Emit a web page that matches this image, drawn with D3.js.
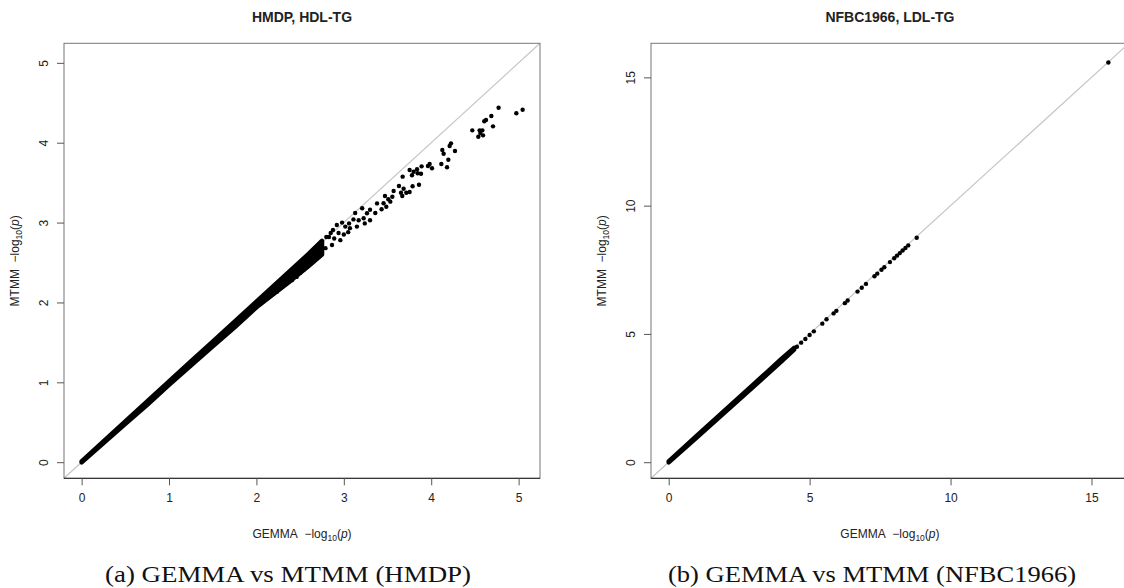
<!DOCTYPE html>
<html>
<head>
<meta charset="utf-8">
<script src="https://cdn.jsdelivr.net/npm/d3@7"></script>
<style>
  body { margin: 0; background: #fff; }
  text { font-family: "Liberation Sans", Arial, sans-serif; fill: #222; }
  .caption { font-family: "Liberation Serif", "DejaVu Serif", serif; fill: #111; }
</style>
</head>
<body>
<script>
// ---- data: left panel (HMDP, HDL-TG) ----
var titleL = "HMDP, HDL-TG";
var captionL = "(a) GEMMA vs MTMM (HMDP)";
var ticksL = [0, 1, 2, 3, 4, 5];
var limL = 5.043;
// dense part of the cloud, read as upper / lower edge of the band
var bandXL  = [0, 0.25, 0.5, 0.75, 1.0, 1.25, 1.5, 1.75, 2.0, 2.2, 2.4, 2.6, 2.75];
var bandHiL = [0.01, 0.26, 0.51, 0.76, 1.01, 1.26, 1.51, 1.76, 2.01, 2.21, 2.41, 2.61, 2.77];
var bandLoL = [0, 0.24, 0.48, 0.72, 0.97, 1.21, 1.45, 1.69, 1.94, 2.11, 2.28, 2.46, 2.6];
// separate points
var gemmaL = [5.046, 4.974, 4.771, 4.688, 4.627, 4.607, 4.707, 4.470, 4.554, 4.585, 4.562, 4.539, 4.593,
  4.226, 4.211, 4.272, 4.127, 4.142, 4.196, 4.116, 4.181, 4.009, 3.982, 3.963, 3.890, 3.838, 3.753,
  3.799, 3.780, 3.845, 3.883, 3.673, 3.631, 3.684, 3.787, 3.860, 3.570, 3.654, 3.715, 3.753, 3.669,
  3.471, 3.509, 3.532, 3.455, 3.432, 3.486, 3.555,
  3.38, 3.30, 3.36, 3.265, 3.21, 3.30, 3.227, 3.17, 3.11, 3.13, 3.06, 2.98, 3.017, 3.07, 2.92, 2.876,
  2.94, 2.89, 2.83, 2.865, 2.79, 2.75, 2.70, 2.655, 2.617, 2.58, 2.54, 2.50, 2.46, 2.41, 2.35, 2.29,
  2.235, 3.05, 3.15, 3.24, 2.96, 3.0, 2.8, 2.85];
var mtmmL = [4.413, 4.368, 4.438, 4.334, 4.284, 4.268, 4.205, 4.155, 4.155, 4.155, 4.121, 4.075, 4.092,
  3.992, 3.959, 3.896, 3.909, 3.862, 3.787, 3.733, 3.692, 3.680, 3.733, 3.708, 3.704, 3.667, 3.658,
  3.637, 3.592, 3.617, 3.612, 3.575, 3.458, 3.424, 3.454, 3.474, 3.396, 3.374, 3.374, 3.383, 3.333,
  3.333, 3.292, 3.262, 3.242, 3.167, 3.199, 3.324,
  3.24, 3.16, 3.12, 3.116, 3.18, 3.03, 3.054, 3.03, 3.04, 3.12, 2.99, 3.00, 2.95, 2.93, 2.97, 2.907,
  2.87, 2.80, 2.82, 2.72, 2.68, 2.62, 2.59, 2.53, 2.49, 2.45, 2.41, 2.37, 2.32, 2.28, 2.24, 2.20,
  2.135, 2.88, 2.95, 2.99, 2.78, 2.85, 2.82, 2.87];

// ---- data: right panel (NFBC1966, LDL-TG) ----
var titleR = "NFBC1966, LDL-TG";
var captionR = "(b) GEMMA vs MTMM (NFBC1966)";
var ticksR = [0, 5, 10, 15];
var limR = 15.7;
var bandXR  = [0, 1, 2, 3, 4, 4.45];
var bandHiR = [0.03, 1.03, 2.03, 3.02, 4.02, 4.45];
var bandLoR = [0, 0.97, 1.95, 2.94, 3.93, 4.39];
var gemmaR = [4.55, 4.7, 4.85, 5.0, 5.15, 5.45, 5.6, 5.85, 5.95, 6.25, 6.35, 6.7, 6.85, 7.0,
  7.3, 7.4, 7.55, 7.65, 7.85, 8.0, 8.1, 8.2, 8.3, 8.4, 8.5, 8.8, 15.6];
var mtmmR = [4.5, 4.66, 4.8, 4.96, 5.1, 5.4, 5.57, 5.8, 5.9, 6.2, 6.3, 6.65, 6.8, 6.95,
  7.25, 7.35, 7.5, 7.6, 7.8, 7.95, 8.05, 8.15, 8.25, 8.35, 8.45, 8.75, 15.58];

var W = 1124, H = 588;
var svg = d3.select("body").append("svg")
    .attr("width", W)
    .attr("height", H);

function drawPanel(p) {
  // R style: 4% padding on each side of the range
  var dom = [-0.04 * p.lim, 1.04 * p.lim];
  var x = d3.scaleLinear().domain(dom).range([p.left, p.right]);
  var y = d3.scaleLinear().domain(dom).range([p.bottom, p.top]);
  var g = svg.append("g");

  // y = x reference line
  g.append("line")
    .attr("x1", x(dom[0])).attr("y1", y(dom[0]))
    .attr("x2", x(dom[1])).attr("y2", y(dom[1]))
    .attr("stroke", "#c4c4c4")
    .attr("stroke-width", 1.2);

  // dense band of overlapping points
  var band = p.bandX.map(function(v, i) { return [v, p.bandLo[i], p.bandHi[i]]; });
  g.append("path")
    .datum(band)
    .attr("d", d3.area()
      .x(function(d) { return x(d[0]); })
      .y0(function(d) { return y(d[1]); })
      .y1(function(d) { return y(d[2]); }))
    .attr("fill", "#000")
    .attr("stroke", "#000")
    .attr("stroke-width", 4.6)
    .attr("stroke-linejoin", "round");

  g.selectAll("circle.pt")
    .data(p.gx)
    .enter()
    .append("circle")
      .attr("class", "pt")
      .attr("cx", function(d) { return x(d); })
      .attr("cy", function(d, i) { return y(p.gy[i]); })
      .attr("r", 2.2)
      .attr("fill", "#000");

  // box
  g.append("rect")
    .attr("x", p.left).attr("y", p.top)
    .attr("width", p.right - p.left)
    .attr("height", p.bottom - p.top)
    .attr("fill", "none")
    .attr("stroke", "#777")
    .attr("stroke-width", 1);
  g.append("line")
    .attr("x1", p.left).attr("x2", p.right)
    .attr("y1", p.bottom).attr("y2", p.bottom)
    .attr("stroke", "#222");

  // axes
  var fmt = d3.format("d");
  var xa = g.append("g")
    .attr("transform", "translate(0," + p.bottom + ")")
    .call(d3.axisBottom(x).tickValues(p.ticks).tickFormat(fmt)
      .tickSize(7).tickPadding(8).tickSizeOuter(0));
  xa.select(".domain").remove();
  xa.selectAll(".tick line").attr("stroke", "#555");
  xa.selectAll("text").style("font-size", "12px").attr("fill", "#222");

  var ya = g.append("g")
    .attr("transform", "translate(" + p.left + ",0)")
    .call(d3.axisLeft(y).tickValues(p.ticks).tickFormat(fmt)
      .tickSize(7).tickSizeOuter(0));
  ya.select(".domain").remove();
  ya.selectAll(".tick line").attr("stroke", "#555");
  ya.selectAll("text")
    .attr("x", 0).attr("dy", 0)
    .attr("text-anchor", "middle")
    .attr("transform", "translate(-16,0) rotate(-90)")
    .style("font-size", "12px")
    .attr("fill", "#222");

  var cx = (p.left + p.right) / 2, cy = (p.top + p.bottom) / 2;

  // title
  svg.append("text")
    .attr("x", cx).attr("y", 22)
    .attr("text-anchor", "middle")
    .style("font-size", "14px")
    .style("font-weight", "bold")
    .text(p.title);

  // axis labels with subscript
  function logLabel(sel, name) {
    sel.append("tspan").text(name + "\u00a0\u00a0\u2212log");
    sel.append("tspan").attr("dy", 3).style("font-size", "8.5px").text("10");
    sel.append("tspan").attr("dy", -3).text("(");
    sel.append("tspan").style("font-style", "italic").text("p");
    sel.append("tspan").text(")");
  }
  var xl = svg.append("text")
    .attr("x", cx).attr("y", 538)
    .attr("text-anchor", "middle")
    .style("font-size", "12px");
  logLabel(xl, "GEMMA");
  var yl = svg.append("text")
    .attr("transform", "translate(" + (p.left - 45) + "," + cy + ") rotate(-90)")
    .attr("text-anchor", "middle")
    .style("font-size", "12px");
  logLabel(yl, "MTMM");

  // caption under the figure
  svg.append("text")
    .attr("class", "caption")
    .attr("x", p.capX).attr("y", 582)
    .attr("text-anchor", "middle")
    .attr("textLength", p.capW)
    .attr("lengthAdjust", "spacingAndGlyphs")
    .style("font-size", "23px")
    .text(p.caption);
}

drawPanel({
  left: 64, right: 540, top: 43.3, bottom: 478.3,
  lim: limL, ticks: ticksL,
  bandX: bandXL, bandHi: bandHiL, bandLo: bandLoL,
  gx: gemmaL, gy: mtmmL,
  title: titleL, caption: captionL, capX: 288, capW: 366
});

drawPanel({
  left: 651, right: 1128.9, top: 43.3, bottom: 478.3,
  lim: limR, ticks: ticksR,
  bandX: bandXR, bandHi: bandHiR, bandLo: bandLoR,
  gx: gemmaR, gy: mtmmR,
  title: titleR, caption: captionR, capX: 872, capW: 408
});
</script>
</body>
</html>
